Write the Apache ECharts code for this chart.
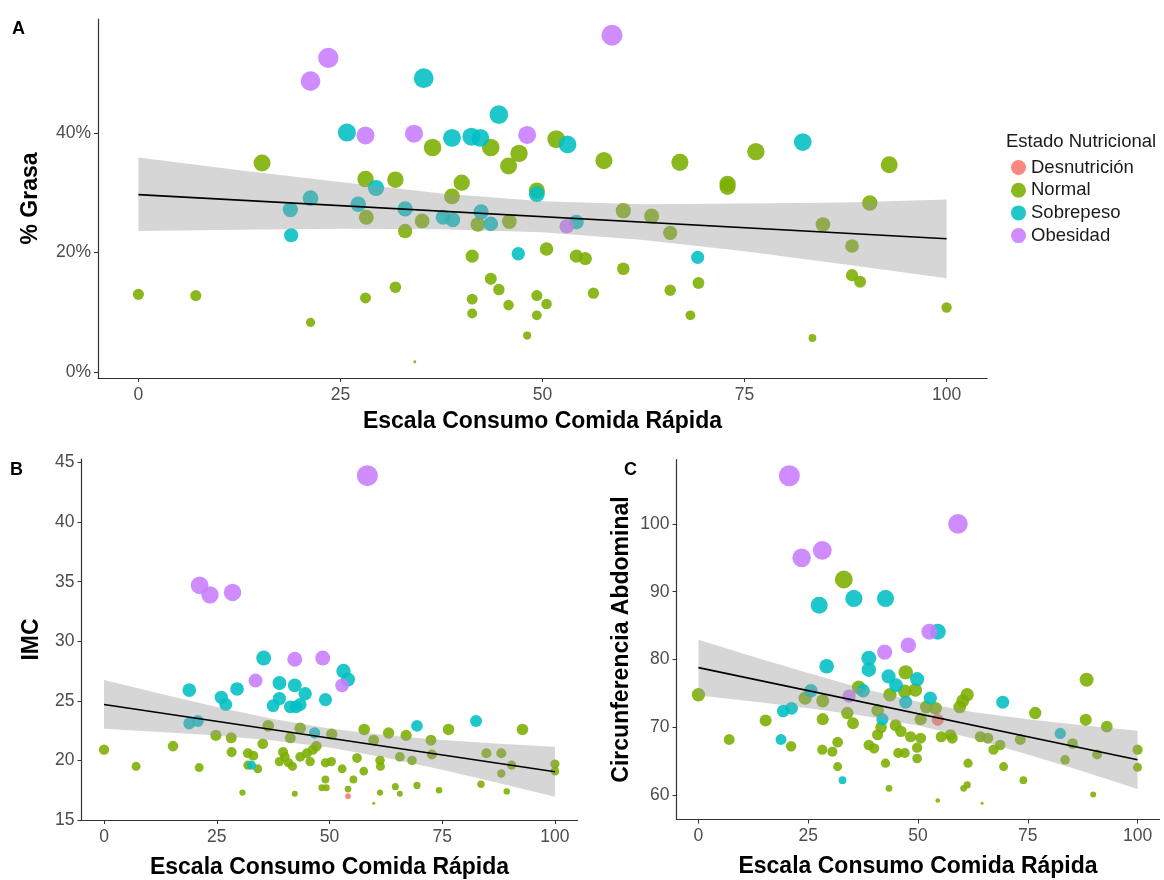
<!DOCTYPE html>
<html>
<head>
<meta charset="utf-8">
<script src="https://cdn.jsdelivr.net/npm/echarts@6/dist/echarts.min.js"></script>
<style>html,body{margin:0;padding:0;background:#fff}#c{width:1164px;height:880px}</style>
</head>
<body>
<div id="c"></div>
<script>
// ---------- categories / labels ----------
const statusNames = ['Desnutrición', 'Normal', 'Sobrepeso', 'Obesidad'];
const statusColors = ['#F8766D', '#7CAE00', '#00BFC4', '#C77CFF'];
const xTitle = 'Escala Consumo Comida Rápida';
const xTicks = [0, 25, 50, 75, 100];
const yTicksA = [0, 20, 40];
const yTicksB = [15, 20, 25, 30, 35, 40, 45];
const yTicksC = [60, 70, 80, 90, 100];

// ---------- Panel A: % Grasa ----------
const A_desn = [];
const A_normal = [[15.3,35.0],[28.1,32.3],[31.8,32.2],[40.0,31.7],[38.8,29.4],[36.4,37.6],[43.6,37.6],[45.8,34.5],[47.1,36.6],[51.7,39.0],[49.3,30.4],[28.2,25.9],[33.0,23.6],[35.1,25.3],[42.0,24.7],[45.9,25.2],[41.3,19.4],[50.5,20.6],[54.2,19.4],[55.3,19.0],[43.6,15.6],[31.8,14.2],[44.6,13.8],[0,13.0],[7.1,12.8],[28.1,12.4],[41.3,12.2],[49.3,12.8],[56.3,13.2],[50.5,11.4],[45.8,11.2],[41.3,9.8],[49.3,9.5],[21.3,8.3],[48.1,6.1],[34.2,1.7],[57.6,35.4],[67.0,35.1],[76.4,36.9],[92.9,34.7],[72.9,31.5],[72.9,31.0],[90.5,28.3],[60.0,27.0],[63.5,26.1],[65.8,23.3],[84.7,24.7],[88.3,21.1],[60.0,17.3],[88.3,16.2],[89.3,15.1],[69.3,14.9],[65.8,13.7],[100,10.8],[68.3,9.5],[83.4,5.7]];
const A_sobre = [[35.3,49.2],[25.8,40.1],[44.6,43.1],[38.8,39.2],[41.2,39.4],[42.3,39.2],[53.1,38.1],[29.4,30.8],[21.3,29.1],[18.8,27.2],[18.9,22.9],[27.2,28.1],[33.0,27.3],[37.7,25.9],[38.9,25.5],[42.4,26.8],[43.6,24.8],[47.0,19.8],[49.3,29.8],[54.2,25.1],[82.2,38.5],[69.2,19.2]];
const A_obes = [[21.3,48.7],[23.5,52.6],[28.1,39.6],[34.1,39.9],[48.1,39.7],[53.0,24.4],[58.6,56.4]];
const fitX = [0, 12.5, 25, 37.5, 50, 62.5, 75, 87.5, 100];
const A_fitLo = [23.6,23.8,24.0,23.9,23.4,22.1,20.2,18.0,15.7];
const A_fitHi = [35.9,33.8,31.8,29.9,28.6,28.1,28.2,28.4,28.9];
const A_fitLine = [[0,29.7],[100,22.3]];

// ---------- Panel B: IMC ----------
const B_desn = [[54.1,17.0]];
const B_normal = [[0,20.9],[7.1,19.5],[15.3,21.2],[21.1,19.4],[24.8,22.1],[28.2,21.9],[28.3,20.7],[31.9,20.6],[33.1,20.4],[31.9,19.6],[34.1,19.3],[35.2,21.4],[36.4,22.9],[30.7,17.3],[39.7,20.7],[40.1,20.3],[38.9,19.9],[40.9,19.8],[41.8,19.5],[41.3,21.9],[43.5,22.7],[43.5,20.3],[45.7,19.9],[45.0,20.6],[46.3,20.9],[47.1,21.2],[49.1,19.8],[50.4,19.9],[49.1,18.4],[48.3,17.7],[49.3,17.7],[42.3,17.2],[50.5,22.2],[52.8,19.3],[54.1,17.6],[55.3,18.4],[56.1,20.2],[57.7,22.6],[57.6,19.1],[59.8,21.7],[59.8,16.4],[61.2,20.0],[61.3,19.5],[61.2,17.3],[63.1,22.3],[64.6,17.8],[65.6,17.2],[65.6,20.3],[67.0,22.1],[68.3,20.0],[69.4,17.9],[72.5,21.7],[72.7,20.5],[74.3,17.5],[76.4,22.6],[83.6,18.0],[84.8,20.6],[88.1,20.6],[88.1,18.9],[89.3,17.4],[90.4,19.6],[92.8,22.6],[100,19.7],[100,19.1]];
const B_sobre = [[35.4,28.6],[53.1,27.5],[54.1,26.8],[18.9,25.9],[29.5,26.0],[38.9,26.5],[42.3,26.3],[26.0,25.3],[27.0,24.7],[38.9,25.2],[37.5,24.6],[44.6,25.6],[49.1,25.1],[41.3,24.5],[42.6,24.5],[43.5,24.7],[18.9,23.1],[20.8,23.3],[69.4,22.9],[82.5,23.3],[46.7,22.3],[32.7,19.6]];
const B_obes = [[58.4,43.9],[21.2,34.7],[23.5,33.9],[28.5,34.1],[42.3,28.5],[48.5,28.6],[33.6,26.7],[52.8,26.3]];
const B_fitLo = [22.65,22.39,22.09,21.68,21.08,20.22,19.21,18.11,16.95];
const B_fitHi = [26.75,25.59,24.49,23.48,22.68,22.12,21.71,21.41,21.15];
const B_fitLine = [[0,24.7],[100,19.05]];

// ---------- Panel C: Circunferencia Abdominal ----------
const C_desn = [[54.5,71.1]];
const C_normal = [[33.1,91.8],[0,74.8],[7.0,68.2],[15.3,71.0],[21.1,67.2],[24.3,74.3],[28.3,73.9],[28.3,71.2],[28.2,66.7],[30.5,66.4],[31.7,67.8],[31.7,64.2],[33.9,72.1],[35.2,70.6],[36.5,75.9],[38.8,67.4],[40.0,66.9],[40.8,72.5],[41.6,70.0],[40.8,68.9],[42.6,64.7],[43.4,61.0],[43.6,74.8],[44.9,70.3],[46.1,69.4],[45.5,66.2],[47.0,66.2],[47.2,78.1],[47.0,75.3],[48.3,68.6],[49.4,75.5],[49.8,67.0],[49.8,65.4],[50.6,68.4],[50.6,71.2],[51.9,73.0],[54.0,72.8],[54.5,59.2],[55.3,68.6],[57.4,68.9],[57.8,68.4],[59.5,73.0],[60.2,73.9],[61.2,74.8],[61.4,64.7],[60.4,61.0],[61.2,61.5],[64.2,68.6],[65.9,68.4],[64.6,58.8],[67.2,66.7],[68.7,67.4],[69.5,64.2],[73.3,68.2],[74.0,62.2],[76.7,72.1],[85.2,67.6],[83.5,65.2],[88.4,77.0],[88.2,71.1],[90.8,66.0],[89.9,60.1],[93.0,70.1],[100,66.7],[100,64.1]];
const C_sobre = [[27.5,88.0],[35.4,89.0],[42.6,89.0],[54.5,84.1],[29.2,79.0],[38.8,80.2],[38.8,78.5],[43.3,77.5],[45.0,76.2],[49.8,77.1],[37.5,75.4],[25.6,75.4],[47.2,73.7],[52.8,74.3],[19.3,72.4],[21.2,72.8],[41.9,71.2],[69.3,73.7],[18.8,68.2],[82.4,69.1],[32.8,62.2]];
const C_obes = [[20.7,107.1],[23.5,95.0],[28.2,96.1],[59.1,100.0],[52.6,84.1],[47.8,82.1],[42.4,81.1],[34.3,74.6]];
const C_fitLo = [74.7,73.8,72.8,71.7,70.25,68.35,66.0,63.5,60.9];
const C_fitHi = [82.9,80.4,78.0,75.7,73.75,72.25,71.2,70.3,69.5];
const C_fitLine = [[0,78.8],[100,65.2]];

// ---------- build chart ----------
const FONT = 'Liberation Sans, Arial, sans-serif';
const chart = echarts.init(document.getElementById('c'), null, {renderer: 'canvas'});

function sizer(lo, hi, dmin, dmax) {
  return function (v) {
    const t = Math.max(0, Math.min(1, (v[1] - lo) / (hi - lo)));
    return dmin + (dmax - dmin) * Math.sqrt(t);
  };
}

function panelSeries(idx, groups, size, fitLo, fitHi, fitLine) {
  const out = [];
  const order = [1, 2, 3, 0];
  order.forEach(function (k) {
    out.push({
      type: 'scatter', name: statusNames[k], xAxisIndex: idx, yAxisIndex: idx,
      data: groups[k], symbolSize: size, z: 2,
      itemStyle: {color: statusColors[k], opacity: 0.88},
      emphasis: {disabled: true}
    });
  });
  const bandRows = fitX.map(function (x, i) { return [x, fitLo[i], fitHi[i]]; });
  out.push({
    type: 'custom', xAxisIndex: idx, yAxisIndex: idx, data: bandRows, z: 3, silent: true,
    clip: true,
    renderItem: function (params, api) {
      if (params.dataIndex !== 0) return null;
      const top = [], bottom = [];
      bandRows.forEach(function (r) {
        top.push(api.coord([r[0], r[2]]));
        bottom.push(api.coord([r[0], r[1]]));
      });
      const pts = top.concat(bottom.reverse());
      return {type: 'polygon', shape: {points: pts},
        style: {fill: '#999999', opacity: 0.4}};
    }
  });
  out.push({type: 'line', xAxisIndex: idx, yAxisIndex: idx, data: fitLine, symbol: 'none',
    lineStyle: {color: '#000', width: 1.6}, z: 4, silent: true});
  return out;
}

function xAxisDef(idx, gap) {
  return {
    type: 'value', gridIndex: idx, min: -5, max: 105,
    name: xTitle, nameLocation: 'middle', nameGap: gap,
    nameTextStyle: {fontFamily: FONT, fontSize: 23, fontWeight: 'bold', color: '#000'},
    axisLine: {show: true, onZero: false, lineStyle: {color: '#333', width: 1.2}},
    axisTick: {show: true, length: 4, customValues: xTicks, lineStyle: {color: '#333'}},
    axisLabel: {customValues: xTicks, fontFamily: FONT, fontSize: 17.5, color: '#4D4D4D', margin: 8},
    splitLine: {show: false}
  };
}

function yAxisDef(idx, name, gap, min, max, ticks, fmt) {
  return {
    type: 'value', gridIndex: idx, min: min, max: max,
    name: name, nameLocation: 'middle', nameGap: gap, nameRotate: 90,
    nameTextStyle: {fontFamily: FONT, fontSize: 23, fontWeight: 'bold', color: '#000'},
    axisLine: {show: true, onZero: false, lineStyle: {color: '#333', width: 1.2}},
    axisTick: {show: true, length: 4, customValues: ticks, lineStyle: {color: '#333'}},
    axisLabel: {customValues: ticks, fontFamily: FONT, fontSize: 17.5, color: '#4D4D4D', margin: 7,
      formatter: fmt},
    splitLine: {show: false}
  };
}

const option = {
  animation: false,
  backgroundColor: '#fff',
  grid: [
    {left: 98, top: 19, width: 889, height: 359},
    {left: 81.5, top: 459, width: 496, height: 361},
    {left: 676.5, top: 459.5, width: 483, height: 360}
  ],
  xAxis: [xAxisDef(0, 32), xAxisDef(1, 36), xAxisDef(2, 36)],
  yAxis: [
    yAxisDef(0, '% Grasa', 56, -1.0, 59.1, yTicksA, function (v) { return v + '%'; }),
    yAxisDef(1, 'IMC', 38, 15.0, 45.3, yTicksB, null),
    yAxisDef(2, 'Circunferencia Abdominal', 43, 56.4, 109.5, yTicksC, null)
  ],
  legend: {
    orient: 'vertical', left: 1011, top: 158, padding: 0, itemWidth: 15, itemHeight: 15, itemGap: 3.7,
    icon: 'circle', data: statusNames, selectedMode: false,
    textStyle: {fontFamily: FONT, fontSize: 18.5, color: '#1a1a1a'}
  },
  graphic: [
    {type: 'text', left: 1006, top: 132, style: {text: 'Estado Nutricional', font: '18.5px ' + FONT, fill: '#1a1a1a'}},
    {type: 'text', left: 12, top: 20, style: {text: 'A', font: 'bold 18px ' + FONT, fill: '#000'}},
    {type: 'text', left: 10, top: 461, style: {text: 'B', font: 'bold 18px ' + FONT, fill: '#000'}},
    {type: 'text', left: 624, top: 461, style: {text: 'C', font: 'bold 18px ' + FONT, fill: '#000'}}
  ],
  series: [].concat(
    panelSeries(0, [A_desn, A_normal, A_sobre, A_obes], sizer(1.7, 56.4, 3, 21), A_fitLo, A_fitHi, A_fitLine),
    panelSeries(1, [B_desn, B_normal, B_sobre, B_obes], sizer(16.4, 43.9, 3, 21), B_fitLo, B_fitHi, B_fitLine),
    panelSeries(2, [C_desn, C_normal, C_sobre, C_obes], sizer(58.8, 107.1, 3, 21), C_fitLo, C_fitHi, C_fitLine)
  )
};
chart.setOption(option);
</script>
</body>
</html>
